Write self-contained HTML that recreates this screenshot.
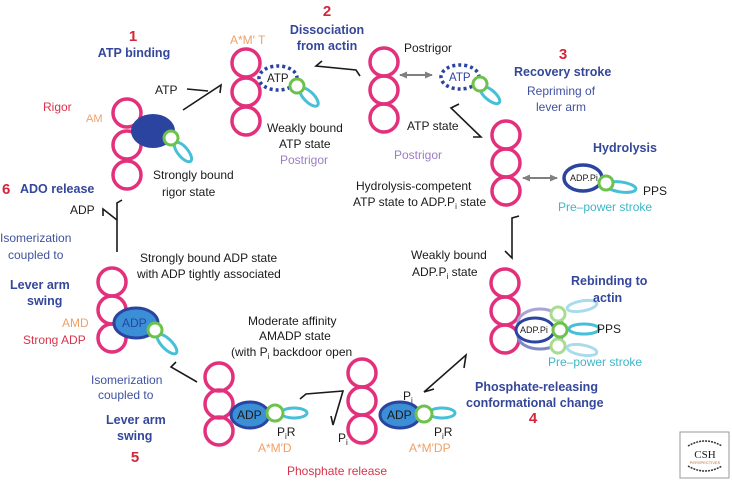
<!DOCTYPE html>
<html><head><meta charset="utf-8"><style>
html,body{margin:0;padding:0;background:#fff;width:732px;height:481px;overflow:hidden}
svg{display:block}
text{font-family:"Liberation Sans",Arial,sans-serif;font-size:12px;fill:#1a1a1a}
.b{font-weight:bold;fill:#34479a;font-size:12.5px}
.bl{fill:#3f529e}
.r{fill:#d3263a;font-weight:bold;font-size:15px}
.rr{fill:#d8334a}
.o{fill:#f0a066}
.p{fill:#9b7cc4}
.c{fill:#3cb6c8}
.pk{fill:none;stroke:#e3307c;stroke-width:3.5}
.g{fill:#fff;stroke:#6cc24a;stroke-width:3}
.cy{fill:none;stroke:#46bfd8;stroke-width:3}
.ar{fill:none;stroke:#1a1a1a;stroke-width:1.6}
.ga{stroke:#808080;stroke-width:2;fill:none}
</style></head><body>
<svg width="732" height="481" viewBox="0 0 732 481">
<defs>
<marker id="gh" markerUnits="userSpaceOnUse" markerWidth="9" markerHeight="9" refX="7" refY="4.5" orient="auto-start-reverse"><path d="M0,1 L8,4.5 L0,8 z" fill="#808080"/></marker>
</defs>

<!-- State 1 rigor -->
<circle class="pk" cx="127" cy="113" r="14"/>
<circle class="pk" cx="127" cy="145" r="14"/>
<circle class="pk" cx="127" cy="175" r="14"/>
<ellipse cx="153" cy="131" rx="22" ry="17" fill="#2a44a0"/>
<ellipse class="cy" cx="183" cy="152" rx="12" ry="5" transform="rotate(50 183 152)"/>
<circle class="g" cx="171" cy="138" r="7"/>

<!-- State 2 -->
<circle class="pk" cx="246" cy="63" r="14"/>
<circle class="pk" cx="246" cy="92" r="14"/>
<circle class="pk" cx="246" cy="121" r="14"/>
<ellipse cx="278" cy="78" rx="19" ry="12" fill="#fff" stroke="#2a44a0" stroke-width="3.5" stroke-dasharray="3 3"/>
<text x="267" y="82" style="font-size:11.5px">ATP</text>
<ellipse class="cy" cx="309" cy="97" rx="12" ry="5" transform="rotate(45 309 97)"/>
<circle class="g" cx="297" cy="86" r="7"/>

<!-- Postrigor top -->
<circle class="pk" cx="384" cy="62" r="14"/>
<circle class="pk" cx="384" cy="90" r="14"/>
<circle class="pk" cx="384" cy="118" r="14"/>
<line class="ga" x1="400" y1="75" x2="432" y2="75" marker-start="url(#gh)" marker-end="url(#gh)"/>
<ellipse cx="460" cy="77" rx="19" ry="12" fill="#fff" stroke="#2a44a0" stroke-width="3.5" stroke-dasharray="3 3"/>
<text x="449" y="81" style="font-size:11.5px;fill:#2a44a0">ATP</text>
<ellipse class="cy" cx="490" cy="95" rx="12" ry="5" transform="rotate(40 490 95)"/>
<circle class="g" cx="480" cy="84" r="7"/>

<!-- Hydrolysis competent -->
<circle class="pk" cx="506" cy="135" r="14"/>
<circle class="pk" cx="506" cy="163" r="14"/>
<circle class="pk" cx="506" cy="191" r="14"/>
<line class="ga" x1="523" y1="178" x2="557" y2="178" marker-start="url(#gh)" marker-end="url(#gh)"/>
<ellipse cx="583" cy="178" rx="19" ry="13" fill="#fff" stroke="#2a44a0" stroke-width="3.5"/>
<text x="570" y="181" style="font-size:9px">ADP.Pi</text>
<ellipse class="cy" cx="621" cy="187" rx="15" ry="5" transform="rotate(8 621 187)"/>
<circle class="g" cx="606" cy="183" r="7"/>

<!-- Rebinding -->
<circle class="pk" cx="505" cy="283" r="14"/>
<circle class="pk" cx="505" cy="311" r="14"/>
<circle class="pk" cx="505" cy="339" r="14"/>
<ellipse cx="540" cy="323" rx="22" ry="14" fill="none" stroke="#a8a4d8" stroke-width="3"/>
<ellipse cx="540" cy="336" rx="22" ry="13" fill="none" stroke="#8088c8" stroke-width="3"/>
<ellipse class="cy" cx="582" cy="306" rx="15" ry="5" transform="rotate(-10 582 306)" style="stroke:#a8dcec"/>
<ellipse class="cy" cx="582" cy="350" rx="15" ry="5" transform="rotate(10 582 350)" style="stroke:#a8dcec"/>
<ellipse class="cy" cx="584" cy="329" rx="15" ry="5"/>
<ellipse cx="535" cy="330" rx="19" ry="12" fill="#fff" stroke="#2a44a0" stroke-width="3"/>
<text x="520" y="333" style="font-size:9px">ADP.Pi</text>
<circle class="g" cx="558" cy="314" r="7" style="stroke:#a8dc90"/>
<circle class="g" cx="558" cy="346" r="7" style="stroke:#a8dc90"/>
<circle class="g" cx="560" cy="330" r="7"/>

<!-- Phosphate state -->
<circle class="pk" cx="362" cy="373" r="14"/>
<circle class="pk" cx="362" cy="401" r="14"/>
<circle class="pk" cx="362" cy="429" r="14"/>
<ellipse cx="400" cy="415" rx="20" ry="13" fill="#3b8fd6" stroke="#2a44a0" stroke-width="3"/>
<text x="387" y="419">ADP</text>
<ellipse class="cy" cx="442" cy="413" rx="13" ry="5"/>
<circle class="g" cx="424" cy="414" r="8"/>

<!-- AMADP state -->
<circle class="pk" cx="219" cy="377" r="14"/>
<circle class="pk" cx="219" cy="404" r="14"/>
<circle class="pk" cx="219" cy="431" r="14"/>
<ellipse cx="250" cy="415" rx="19" ry="13" fill="#3b8fd6" stroke="#2a44a0" stroke-width="3"/>
<text x="237" y="419">ADP</text>
<ellipse class="cy" cx="294" cy="413" rx="13" ry="5"/>
<circle class="g" cx="275" cy="413" r="8"/>

<!-- State 5 upper left -->
<circle class="pk" cx="112" cy="282" r="14"/>
<circle class="pk" cx="112" cy="310" r="14"/>
<circle class="pk" cx="112" cy="338" r="14"/>
<ellipse cx="136" cy="323" rx="22" ry="15" fill="#3b8fd6" stroke="#2a44a0" stroke-width="3"/>
<text x="122" y="327" style="fill:#2a44a0">ADP</text>
<ellipse class="cy" cx="167" cy="344" rx="13" ry="5" transform="rotate(45 167 344)"/>
<circle class="g" cx="155" cy="330" r="7"/>

<!-- Arrows -->
<path class="ar" d="M187,89 L208,91"/>
<path class="ar" d="M183,110 L221,85 L220,93"/>
<path class="ar" d="M322,61 L316,66 L356,70 L360,76"/>
<path class="ar" d="M459,104 L451,108 L481,137 L473,137"/>
<path class="ar" d="M519,216 L512,218 L512,258 L505,251"/>
<path class="ar" d="M464,368 L466,355 L424,392 L434,389"/>
<path class="ar" d="M300,399 L306,394 L343,391 L333,425 L331,416"/>
<path class="ar" d="M197,382 L171,367 L176,362"/>
<path class="ar" d="M122,200 L117,203 L117,252"/>
<path class="ar" d="M117,220 L103,209 L103,216"/>

<!-- Labels -->
<text class="r" x="133" y="41" text-anchor="middle">1</text>
<text class="b" x="134" y="57" text-anchor="middle">ATP binding</text>
<text class="r" x="327" y="16" text-anchor="middle">2</text>
<text class="b" x="327" y="34" text-anchor="middle">Dissociation</text>
<text class="b" x="327" y="50" text-anchor="middle">from actin</text>
<text class="o" x="230" y="44">A*M′ T</text>
<text x="155" y="94">ATP</text>
<text class="rr" x="43" y="111">Rigor</text>
<text class="o" x="86" y="122" style="font-size:11px">AM</text>
<text x="153" y="179">Strongly bound</text>
<text x="162" y="196">rigor state</text>
<text x="267" y="132">Weakly bound</text>
<text x="279" y="148">ATP state</text>
<text class="p" x="280" y="164">Postrigor</text>
<text class="r" x="2" y="194">6</text>
<text class="b" x="20" y="193">ADO release</text>
<text x="70" y="214">ADP</text>
<text class="bl" x="0" y="242">Isomerization</text>
<text class="bl" x="8" y="259">coupled to</text>
<text class="b" x="10" y="289">Lever arm</text>
<text class="b" x="27" y="305">swing</text>
<text class="o" x="62" y="327">AMD</text>
<text class="rr" x="23" y="344">Strong ADP</text>
<text x="140" y="262">Strongly bound ADP state</text>
<text x="137" y="278">with ADP tightly associated</text>
<text x="248" y="325">Moderate affinity</text>
<text x="259" y="340">AMADP state</text>
<text x="231" y="356">(with P<tspan dy="3" style="font-size:8px">i</tspan><tspan dy="-3"> backdoor open</tspan></text>
<text class="bl" x="91" y="384">Isomerization</text>
<text class="bl" x="98" y="399">coupled to</text>
<text class="b" x="106" y="424">Lever arm</text>
<text class="b" x="117" y="440">swing</text>
<text class="r" x="135" y="462" text-anchor="middle">5</text>
<text x="277" y="436">P<tspan dy="3" style="font-size:8px">i</tspan><tspan dy="-3">R</tspan></text>
<text class="o" x="258" y="452">A*M′D</text>
<text x="338" y="442">P<tspan dy="3" style="font-size:8px">i</tspan></text>
<text class="rr" x="287" y="475">Phosphate release</text>
<text x="404" y="52">Postrigor</text>
<text class="r" x="563" y="59" text-anchor="middle">3</text>
<text class="b" x="514" y="76">Recovery stroke</text>
<text class="bl" x="527" y="95">Repriming of</text>
<text class="bl" x="536" y="111">lever arm</text>
<text x="407" y="130">ATP state</text>
<text class="p" x="394" y="159">Postrigor</text>
<text class="b" x="593" y="152">Hydrolysis</text>
<text x="356" y="190">Hydrolysis-competent</text>
<text x="353" y="206">ATP state to ADP.P<tspan dy="3" style="font-size:8px">i</tspan><tspan dy="-3"> state</tspan></text>
<text x="643" y="195">PPS</text>
<text class="c" x="558" y="211">Pre–power stroke</text>
<text x="411" y="259">Weakly bound</text>
<text x="412" y="276">ADP.P<tspan dy="3" style="font-size:8px">i</tspan><tspan dy="-3">  state</tspan></text>
<text class="b" x="571" y="285">Rebinding to</text>
<text class="b" x="593" y="302">actin</text>
<text x="597" y="333">PPS</text>
<text class="c" x="548" y="366">Pre–power stroke</text>
<text class="b" x="475" y="391">Phosphate-releasing</text>
<text class="b" x="466" y="407">conformational change</text>
<text class="r" x="533" y="423" text-anchor="middle">4</text>
<text x="403" y="400">P<tspan dy="3" style="font-size:8px">i</tspan></text>
<text x="434" y="436">P<tspan dy="3" style="font-size:8px">i</tspan><tspan dy="-3">R</tspan></text>
<text class="o" x="409" y="452">A*M′DP</text>

<!-- CSH logo -->
<rect x="680" y="432" width="49" height="46" fill="#fff" stroke="#999" stroke-width="1"/>
<path d="M688,446 Q705,436 722,446 M688,466 Q705,476 722,466" fill="none" stroke="#333" stroke-width="1.5" stroke-dasharray="2 1"/>
<text x="705" y="458" text-anchor="middle" style="font-family:'Liberation Serif',serif;font-size:11px">CSH</text>
<text x="705" y="464" text-anchor="middle" style="font-size:4px;fill:#c07030">PERSPECTIVES</text>
</svg>
</body></html>
